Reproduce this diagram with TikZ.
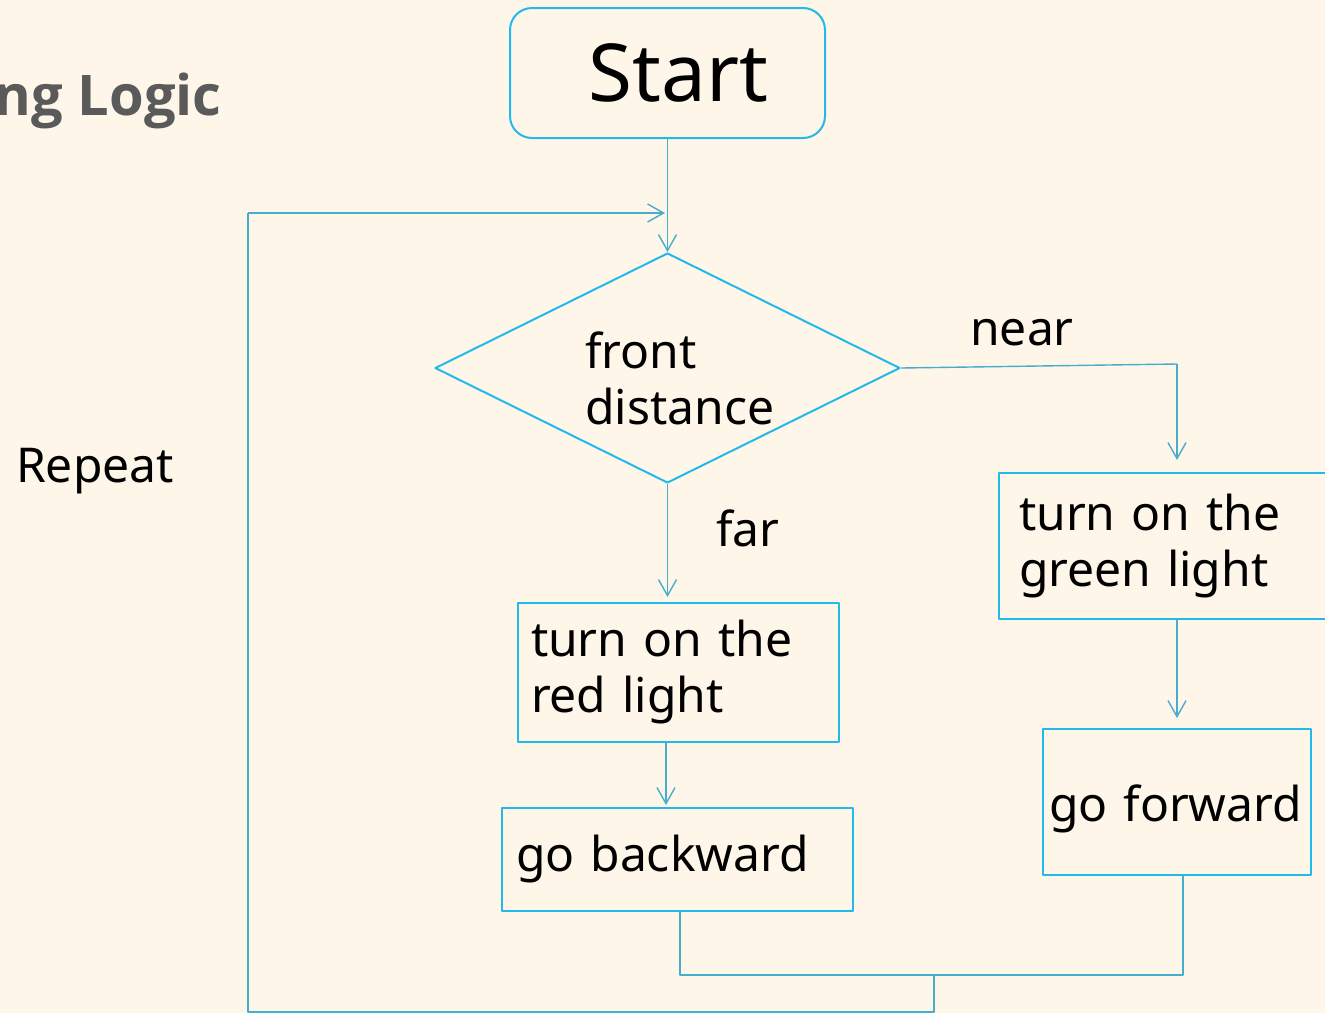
\documentclass[tikz,border=0pt]{standalone}
\usepackage{fontspec}
\setmainfont{Noto Sans}
\newfontfamily\titlefont{Open Sans}
\usetikzlibrary{arrows.meta,shapes.geometric}

\definecolor{paper}{RGB}{254,246,233}
\definecolor{boxline}{RGB}{35,185,235}
\definecolor{wire}{RGB}{72,172,205}
\definecolor{titlegray}{RGB}{90,90,90}

\tikzset{
  stepbox/.style={draw=boxline, line width=2pt, anchor=north west, inner xsep=13pt,
    inner ysep=0pt, align=left, font=\fontsize{48}{56}\selectfont},
  tag/.style={font=\fontsize{48}{56}\selectfont, inner sep=0pt},
  wireline/.style={draw=wire, line width=1.4pt},
  flow/.style={wireline, -{Straight Barb[length=16pt,width=18pt]}},
}

\begin{document}
\begin{tikzpicture}[x=1pt, y=-1pt, line join=round]

  % ── 背景与画布 ──
  \fill[paper] (0,0) rectangle (1325,1013);
  \useasboundingbox (0,0) rectangle (1325,1013);

  % ── 标题（左侧截断）──
  \node[anchor=base east, inner sep=0pt, text=titlegray,
        font=\titlefont\bfseries\fontsize{56}{60}\selectfont] (title) at (222,115) {ng Logic};

  % ── 开始 / 判断 ──
  \node[draw=boxline, line width=2pt, rounded corners=22pt, minimum width=315pt,
        minimum height=130pt, font=\fontsize{80}{82}\selectfont] (start) at (667.5,73) {\hspace*{22pt}Start};
  \node[diamond, draw=boxline, line width=2pt, minimum width=465pt, minimum height=230pt,
        inner sep=0pt] (dist) at (667.5,368) {};
  \node[tag, anchor=north west, align=left] (distxt) at (585,332) {front\\distance};

  % ── 两个分支的方框 ──
  \node[stepbox, minimum width=321pt, minimum height=139pt, text width=295pt]
        (red) at (517,602) {turn on the\\red light};
  \node[stepbox, minimum width=351pt, minimum height=103pt, text width=323pt, inner xsep=14pt]
        (back) at (501,807) {go backward};
  \node[stepbox, minimum width=345pt, minimum height=146pt, text width=305pt, inner xsep=20pt]
        (green) at (998,472) {turn on the\\green light};
  \node[stepbox, minimum width=268pt, minimum height=146pt, text width=256pt, inner xsep=6pt]
        (fwd) at (1042,728) {\raisebox{-7pt}[\height][\depth]{go forward}};

  % ── 标签 ──
  \node[tag] (near) at (1022,333) {near};
  \node[tag] (far) at (748,528) {far};
  \node[tag] (rep) at (95,471) {Repeat};

  % ── 转折点 ──
  \coordinate (nearbend) at (1177,364);
  \coordinate (joinL) at (680,975);
  \coordinate (joinR) at (1183,975);
  \coordinate (join) at (934,975);
  \coordinate (loopbl) at (248,1012);
  \coordinate (looptl) at (248,213);
  \coordinate (looptip) at (665,213);

  % ── 连线 ──
  \draw[flow] (start) -- (dist.north);
  \draw[flow, shorten >=5pt] (dist.south) -- (dist.south |- red.north);
  \draw[wireline] (dist.east) -- (nearbend);
  \draw[flow, shorten >=12pt] (nearbend) -- (nearbend |- green.north);
  \draw[flow, shorten >=10pt] (nearbend |- green.south) -- (nearbend |- fwd.north);
  \draw[flow, shorten >=2pt] ([xshift=-12.5pt]red.south) -- ([xshift=-12.5pt]red.south |- back.north);
  \draw[wireline] (joinL |- back.south) -- (joinL) -- (joinR) -- (joinR |- fwd.south);
  \draw[wireline] (join) -- (join |- loopbl) -- (loopbl) -- (looptl);
  \draw[flow] (looptl) -- (looptip);

\end{tikzpicture}
\end{document}
